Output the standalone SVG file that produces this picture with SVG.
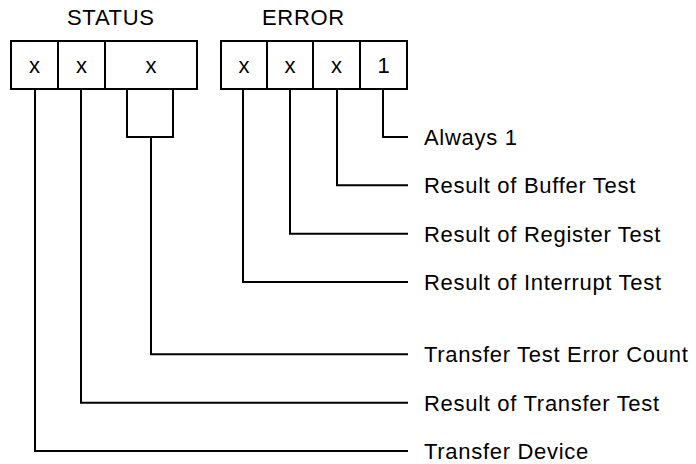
<svg xmlns="http://www.w3.org/2000/svg" width="696" height="464" viewBox="0 0 696 464">
<style>
.t{font-family:"Liberation Sans",Arial,Helvetica,sans-serif;font-size:22px;fill:#000;letter-spacing:0.7px}
.c{font-family:"Liberation Sans",Arial,Helvetica,sans-serif;font-size:22px;fill:#000;text-anchor:middle}
.b{fill:#fff;stroke:#000;stroke-width:2}
.w{fill:none;stroke:#000;stroke-width:2;stroke-linejoin:miter;stroke-linecap:square}
</style>
<rect width="696" height="464" fill="#fff"/>
<g id="status">
<text class="t" x="67" y="25">STATUS</text>
<rect class="b" x="11" y="41" width="186" height="48"/>
<line class="w" x1="58" y1="41" x2="58" y2="89"/>
<line class="w" x1="105" y1="41" x2="105" y2="89"/>
<text class="c" x="34.5" y="73">x</text>
<text class="c" x="81.5" y="73">x</text>
<text class="c" x="151" y="73">x</text>
</g>
<g id="error">
<text class="t" x="262" y="25">ERROR</text>
<rect class="b" x="221" y="41" width="186" height="48"/>
<line class="w" x1="267" y1="41" x2="267" y2="89"/>
<line class="w" x1="313" y1="41" x2="313" y2="89"/>
<line class="w" x1="360" y1="41" x2="360" y2="89"/>
<text class="c" x="244" y="73">x</text>
<text class="c" x="290" y="73">x</text>
<text class="c" x="336.5" y="73">x</text>
<text class="c" x="383.5" y="73">1</text>
</g>
<g id="connectors">
<polyline class="w" points="35,89 35,451 407,451"/>
<polyline class="w" points="81,89 81,402.7 407,402.7"/>
<polyline class="w" points="127,89 127,137 173,137 173,89"/>
<polyline class="w" points="151,137 151,354.3 407,354.3"/>
<polyline class="w" points="243,89 243,282 407,282"/>
<polyline class="w" points="290,89 290,233.7 407,233.7"/>
<polyline class="w" points="337,89 337,185.3 407,185.3"/>
<polyline class="w" points="383,89 383,137 407,137"/>
</g>
<g id="labels">
<text class="t" x="424" y="145">Always 1</text>
<text class="t" x="424" y="193.3">Result of Buffer Test</text>
<text class="t" x="424" y="241.7">Result of Register Test</text>
<text class="t" x="424" y="290">Result of Interrupt Test</text>
<text class="t" x="424" y="362.3">Transfer Test Error Count</text>
<text class="t" x="424" y="410.7">Result of Transfer Test</text>
<text class="t" x="424" y="459">Transfer Device</text>
</g>
</svg>
